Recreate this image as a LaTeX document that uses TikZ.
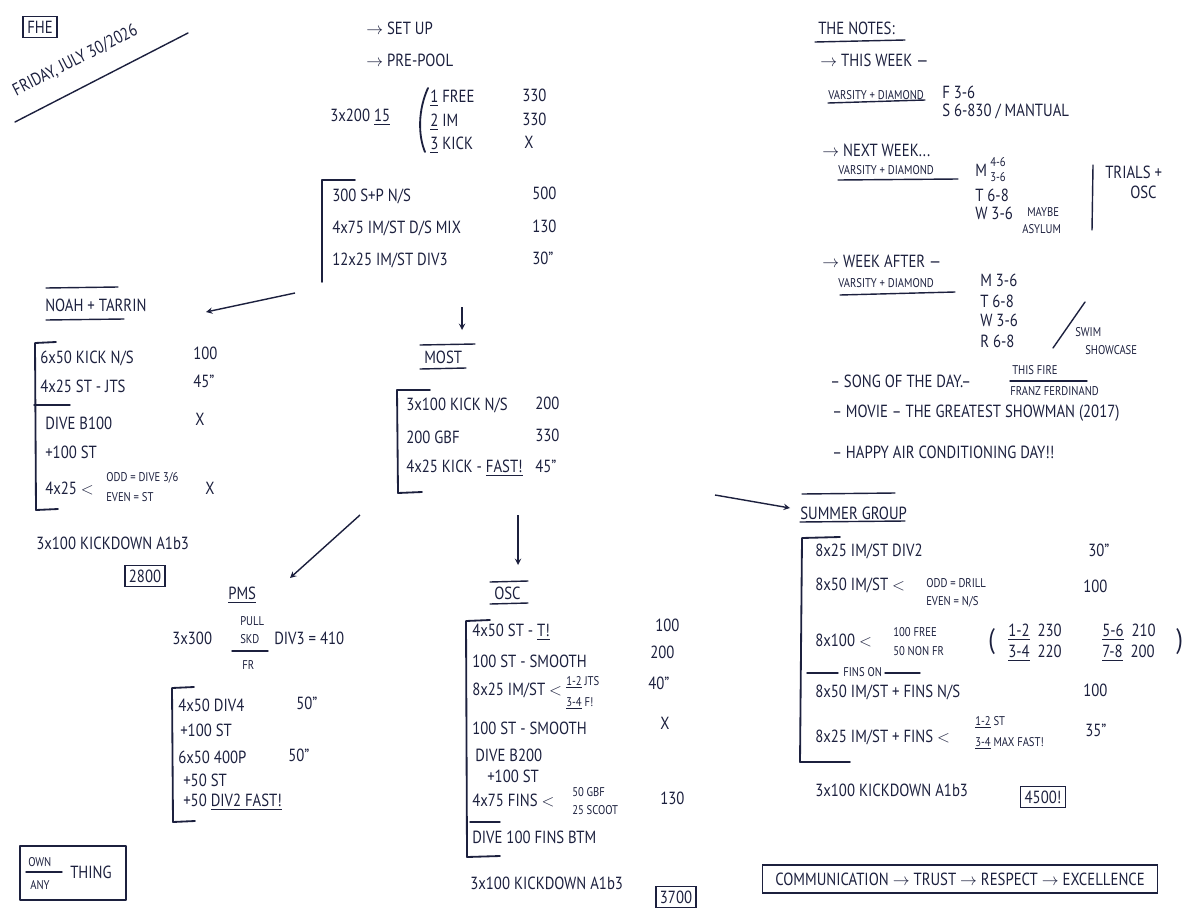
\documentclass[tikz,border=0pt]{standalone}
\usepackage{fontspec}
\setmainfont[FakeStretch=0.84]{PT Sans}
\usetikzlibrary{positioning, arrows}
\definecolor{ink}{RGB}{28,32,62}
\newcommand{\hand}{\fontsize{12.5}{14}\selectfont}
\newcommand{\handsm}{\fontsize{9}{10}\selectfont}
\newcommand{\und}[1]{\underline{#1}}
\tikzset{
  txt/.style={anchor=west, inner sep=0pt, text=ink, font=\hand},
  sm/.style={anchor=west, inner sep=0pt, text=ink, font=\handsm},
  pen/.style={draw=ink, line width=1pt, line cap=round, line join=round},
  brk/.style={draw=ink, line width=1.3pt, line cap=round, line join=round},
  box/.style={draw=ink, line width=1.2pt, inner sep=3pt, text=ink, font=\hand},
  go/.style={draw=ink, line width=1pt, ->}
}

\begin{document}
\begin{tikzpicture}[>=stealth, x=0.025cm, y=-0.025cm]
  \useasboundingbox (0,0) rectangle (1200,920);

  % header
  \node[box] (fhe) at (40,27) {FHE};
  \node[txt, rotate=27] (date) at (14,92) {FRIDAY, JULY 30/2026};
  \draw[pen] (15,122) -- (188,33);

  % warm up
  \node[txt] (setup) at (366,28) {$\rightarrow$ SET UP};
  \node[txt] (prepool) at (366,60) {$\rightarrow$ PRE-POOL};
  \node[txt] (w0) at (330,117) {3x200 \und{15}};
  \draw[brk] (428,88) .. controls (418,110) and (418,135) .. (425,152);
  \node[txt] (w1) at (430,98) {\und{1} FREE};
  \node[txt] (w2) at (430,122) {\und{2} IM};
  \node[txt] (w3) at (430,145) {\und{3} KICK};
  \node[txt] (t1) at (522,95) {330};
  \node[txt] (t2) at (522,119) {330};
  \node[txt] (t3) at (524,142) {X};
  \draw[brk] (355,180) -- (322,180) -- (322,282);
  \node[txt] (w4) at (332,196) {300 S+P N/S};
  \node[txt] (w5) at (332,228) {4x75 IM/ST D/S MIX};
  \node[txt] (w6) at (332,260) {12x25 IM/ST DIV3};
  \node[txt] (t4) at (532,193) {500};
  \node[txt] (t5) at (532,226) {130};
  \node[txt] (t6) at (532,258) {30"};

  % arrows to the groups
  \coordinate (a1s) at (295,293);  \coordinate (a1e) at (206,312);
  \coordinate (a2s) at (462,307);  \coordinate (a2e) at (462,330);
  \coordinate (a3s) at (360,515);  \coordinate (a3e) at (290,578);
  \coordinate (a4s) at (518,515);  \coordinate (a4e) at (518,565);
  \coordinate (a5s) at (715,495);  \coordinate (a5e) at (790,508);
  \draw[go] (a1s) -- (a1e);
  \draw[go] (a2s) -- (a2e);
  \draw[go] (a3s) -- (a3e);
  \draw[go] (a4s) -- (a4e);
  \draw[go] (a5s) -- (a5e);

  % noah + tarrin
  \draw[pen] (46,288) -- (118,287);
  \node[txt] (nt) at (45,305) {NOAH + TARRIN};
  \draw[pen] (46,320) -- (124,319);
  \draw[brk] (56,342) -- (35,343) -- (36,510) -- (58,509);
  \node[txt] (n1) at (40,358) {6x50 KICK N/S};
  \node[txt] (n2) at (40,386) {4x25 ST - JTS};
  \draw[pen] (34,405) -- (70,405);
  \node[txt] (n3) at (45,423) {DIVE B100};
  \node[txt] (n4) at (45,452) {+100 ST};
  \node[txt] (n5) at (45,488) {4x25 $<$};
  \node[sm] (n5a) at (106,478) {ODD = DIVE 3/6};
  \node[sm] (n5b) at (106,497) {EVEN = ST};
  \node[txt] (nx1) at (193,353) {100};
  \node[txt] (nx2) at (193,381) {45"};
  \node[txt] (nx3) at (195,419) {X};
  \node[txt] (nx5) at (205,488) {X};
  \node[txt] (nkd) at (36,543) {3x100 KICKDOWN A1b3};
  \node[box] (ntot) at (145,576) {2800};

  % most
  \draw[pen] (420,345) -- (475,344);
  \node[txt] (most) at (424,357) {MOST};
  \draw[pen] (420,369) -- (466,368);
  \draw[brk] (430,390) -- (397,390) -- (398,493) -- (422,492);
  \node[txt] (m1) at (406,405) {3x100 KICK N/S};
  \node[txt] (m2) at (406,437) {200 GBF};
  \node[txt] (m3) at (406,468) {4x25 KICK - \und{FAST!}};
  \node[txt] (mx1) at (535,403) {200};
  \node[txt] (mx2) at (535,435) {330};
  \node[txt] (mx3) at (535,466) {45"};

  % pms
  \node[txt] (pms) at (228,595) {\und{PMS}};
  \node[txt] (p0) at (172,638) {3x300};
  \node[sm] (p0a) at (240,621) {PULL};
  \node[sm] (p0b) at (240,639) {SKD};
  \draw[pen] (232,651) -- (268,651);
  \node[sm] (p0c) at (242,665) {FR};
  \node[txt] (p0d) at (274,638) {DIV3 = 410};
  \draw[brk] (194,687) -- (172,688) -- (173,822) -- (195,821);
  \node[txt] (p1) at (178,705) {4x50 DIV4};
  \node[txt] (p2) at (180,730) {+100 ST};
  \node[txt] (p3) at (178,757) {6x50 400P};
  \node[txt] (p4) at (183,780) {+50 ST};
  \node[txt] (p5) at (183,802) {+50 \und{DIV2 FAST!}};
  \node[txt] (px1) at (296,703) {50"};
  \node[txt] (px3) at (288,755) {50"};

  % own / any thing
  \node[sm] (own) at (28,862) {OWN};
  \draw[pen] (26,872) -- (62,872);
  \node[sm] (any) at (30,885) {ANY};
  \node[txt] (thing) at (70,872) {THING};
  \draw[brk] (20,846) rectangle (126,900);

  % osc
  \draw[pen] (490,582) -- (528,581);
  \node[txt] (osc) at (494,593) {OSC};
  \draw[pen] (490,604) -- (528,603);
  \draw[brk] (490,620) -- (466,621) -- (467,857) -- (500,856);
  \node[txt] (o1) at (472,632) {4x50 ST - \und{T!}};
  \node[txt] (o2) at (472,661) {100 ST - SMOOTH};
  \node[txt] (o3) at (472,690) {8x25 IM/ST $<$};
  \node[sm] (o3a) at (566,682) {\und{1-2} JTS};
  \node[sm] (o3b) at (566,703) {\und{3-4} F!};
  \node[txt] (o4) at (472,728) {100 ST - SMOOTH};
  \node[txt] (o5) at (475,755) {DIVE B200};
  \node[txt] (o6) at (487,776) {+100 ST};
  \node[txt] (o7) at (472,800) {4x75 FINS $<$};
  \node[sm] (o7a) at (572,792) {50 GBF};
  \node[sm] (o7b) at (572,810) {25 SCOOT};
  \draw[pen] (470,822) -- (500,822);
  \node[txt] (o8) at (472,837) {DIVE 100 FINS BTM};
  \node[txt] (ox1) at (655,625) {100};
  \node[txt] (ox2) at (650,652) {200};
  \node[txt] (ox3) at (648,683) {40"};
  \node[txt] (ox4) at (660,723) {X};
  \node[txt] (ox7) at (660,798) {130};
  \node[txt] (okd) at (470,883) {3x100 KICKDOWN A1b3};
  \node[box] (otot) at (676,897) {3700};

  % summer group
  \draw[pen] (802,494) -- (895,493);
  \node[txt] (sg) at (800,513) {SUMMER GROUP};
  \draw[pen] (800,522) -- (905,521);
  \draw[brk] (840,537) -- (802,538) -- (800,762) -- (850,762);
  \node[txt] (s1) at (815,551) {8x25 IM/ST DIV2};
  \node[txt] (s2) at (815,585) {8x50 IM/ST $<$};
  \node[sm] (s2a) at (926,583) {ODD = DRILL};
  \node[sm] (s2b) at (926,602) {EVEN = N/S};
  \node[txt] (s3) at (815,640) {8x100 $<$};
  \node[sm] (s3a) at (893,632) {100 FREE};
  \node[sm] (s3b) at (893,651) {50 NON FR};
  \node[txt, font=\fontsize{20}{20}\selectfont] (po) at (988,642) {(};
  \node[txt] (s3c) at (1008,632) {\und{1-2} \ 230};
  \node[txt] (s3d) at (1008,653) {\und{3-4} \ 220};
  \node[txt] (s3e) at (1102,632) {\und{5-6} \ 210};
  \node[txt] (s3f) at (1102,653) {\und{7-8} \ 200};
  \node[txt, font=\fontsize{20}{20}\selectfont] (pc) at (1176,642) {)};
  \draw[pen] (807,673) -- (838,673);
  \node[sm] (fins) at (843,672) {FINS ON};
  \draw[pen] (885,673) -- (920,673);
  \node[txt] (s4) at (815,692) {8x50 IM/ST + FINS N/S};
  \node[txt] (s5) at (815,737) {8x25 IM/ST + FINS $<$};
  \node[sm] (s5a) at (975,722) {\und{1-2} ST};
  \node[sm] (s5b) at (975,743) {\und{3-4} MAX FAST!};
  \node[txt] (sx1) at (1088,550) {30"};
  \node[txt] (sx2) at (1083,586) {100};
  \node[txt] (sx4) at (1083,690) {100};
  \node[txt] (sx5) at (1085,730) {35"};
  \node[txt] (skd) at (815,790) {3x100 KICKDOWN A1b3};
  \node[box] (stot) at (1043,797) {4500!};

  % motto
  \node[box, minimum width=395*0.025cm, minimum height=28*0.025cm] (motto) at (960,879)
    {COMMUNICATION $\rightarrow$ TRUST $\rightarrow$ RESPECT $\rightarrow$ EXCELLENCE};

  % the notes
  \node[txt] (notes) at (818,28) {THE NOTES:};
  \draw[pen] (815,42) -- (905,40);
  \node[txt] (tw) at (820,60) {$\rightarrow$ THIS WEEK ---};
  \node[sm] (tw1) at (828,95) {VARSITY + DIAMOND};
  \draw[pen] (828,103) -- (925,100);
  \node[txt] (tw2) at (942,92) {F 3-6};
  \node[txt] (tw3) at (942,111) {S 6-830 / MANTUAL};
  \node[txt] (nw) at (822,150) {$\rightarrow$ NEXT WEEK...};
  \node[sm] (nw1) at (838,170) {VARSITY + DIAMOND};
  \draw[pen] (838,180) -- (958,179);
  \node[txt] (nw2) at (975,170) {M};
  \node[sm] (nw2a) at (990,162) {4-6};
  \node[sm] (nw2b) at (990,177) {3-6};
  \node[txt] (nw3) at (975,195) {T 6-8};
  \node[txt] (nw4) at (975,213) {W 3-6};
  \node[sm] (nw4a) at (1027,212) {MAYBE};
  \node[sm] (nw4b) at (1022,229) {ASYLUM};
  \draw[pen] (1093,165) -- (1092,230);
  \node[txt] (trials) at (1105,172) {TRIALS +};
  \node[txt] (tosc) at (1130,192) {OSC};
  \node[txt] (wa) at (822,261) {$\rightarrow$ WEEK AFTER ---};
  \node[sm] (wa1) at (838,283) {VARSITY + DIAMOND};
  \draw[pen] (840,295) -- (955,292);
  \node[txt] (wa2) at (980,280) {M 3-6};
  \node[txt] (wa3) at (980,301) {T 6-8};
  \node[txt] (wa4) at (980,320) {W 3-6};
  \node[txt] (wa5) at (980,341) {R 6-8};
  \draw[pen] (1085,302) -- (1053,348);
  \node[sm] (swim) at (1075,332) {SWIM};
  \node[sm] (show) at (1085,350) {SHOWCASE};
  \node[txt] (song) at (830,381) {-- SONG OF THE DAY.--};
  \node[sm] (song1) at (1012,370) {THIS FIRE};
  \draw[pen] (1010,381) -- (1087,381);
  \node[sm] (song2) at (1010,391) {FRANZ FERDINAND};
  \node[txt] (movie) at (832,413) {-- MOVIE -- THE GREATEST SHOWMAN (2017)};
  \node[txt] (happy) at (832,452) {-- HAPPY AIR CONDITIONING DAY!!};
\end{tikzpicture}
\end{document}
